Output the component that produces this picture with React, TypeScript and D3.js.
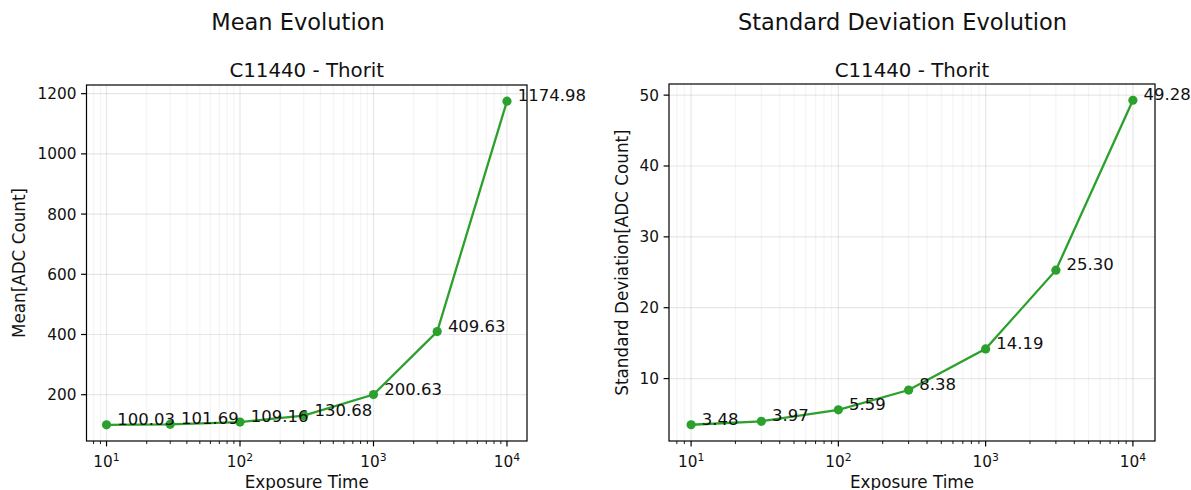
import React from "react";
import * as d3 from "d3";

const exposureTimes = [10, 30, 100, 300, 1000, 3000, 10000];
const meanValues = [100.03, 101.69, 109.16, 130.68, 200.63, 409.63, 1174.98];
const stdValues = [3.48, 3.97, 5.59, 8.38, 14.19, 25.3, 49.28];
const meanTicks = [200, 400, 600, 800, 1000, 1200];
const stdTicks = [10, 20, 30, 40, 50];
const xMajorExp = [1, 2, 3, 4];

const W = 1191;
const H = 490;
const GREEN = "#2ca02c";
const FONT = "DejaVu Sans, sans-serif";

type PanelProps = {
  left: number;
  right: number;
  top: number;
  bottom: number;
  values: number[];
  yTicks: number[];
  yLabel: string;
  title: string;
  titleX: number;
  subtitle: string;
  yLabelX: number;
};

function Panel(p: PanelProps) {
  const lx0 = Math.log10(d3.min(exposureTimes)!);
  const lx1 = Math.log10(d3.max(exposureTimes)!);
  const mx = (lx1 - lx0) * 0.05;
  const x = d3
    .scaleLog()
    .domain([Math.pow(10, lx0 - mx), Math.pow(10, lx1 + mx)])
    .range([p.left, p.right]);
  const y0 = d3.min(p.values)!;
  const y1 = d3.max(p.values)!;
  const my = (y1 - y0) * 0.05;
  const y = d3.scaleLinear().domain([y0 - my, y1 + my]).range([p.bottom, p.top]);

  const [dmin, dmax] = x.domain();
  const minor: number[] = [];
  for (let e = 0; e <= 4; e++) {
    for (let m = 2; m <= 9; m++) {
      const v = m * Math.pow(10, e);
      if (v >= dmin && v <= dmax) minor.push(v);
    }
  }
  const major = xMajorExp.map((e) => Math.pow(10, e));

  const line = d3
    .line<number>()
    .x((_, i) => x(exposureTimes[i]))
    .y((d) => y(d));

  const cx = (p.left + p.right) / 2;
  const cy = (p.top + p.bottom) / 2;

  return (
    <g fontFamily={FONT}>
      <text x={p.titleX} y={30} textAnchor="middle" fontSize={22.5} fill="#111">
        {p.title}
      </text>
      <text x={cx} y={77} textAnchor="middle" fontSize={19.8} fill="#111">
        {p.subtitle}
      </text>
      {/* grid */}
      {minor.map((v) => (
        <line key={"mg" + v} x1={x(v)} x2={x(v)} y1={p.top} y2={p.bottom} stroke="#b0b0b0" strokeOpacity={0.13} strokeWidth={1.2} />
      ))}
      {major.map((v) => (
        <line key={"Mg" + v} x1={x(v)} x2={x(v)} y1={p.top} y2={p.bottom} stroke="#b0b0b0" strokeOpacity={0.3} strokeWidth={1.2} />
      ))}
      {p.yTicks.map((v) => (
        <line key={"yg" + v} x1={p.left} x2={p.right} y1={y(v)} y2={y(v)} stroke="#b0b0b0" strokeOpacity={0.3} strokeWidth={1.2} />
      ))}
      {/* data */}
      <path d={line(p.values) || ""} fill="none" stroke={GREEN} strokeWidth={2.3} />
      {p.values.map((v, i) => (
        <circle key={"c" + i} cx={x(exposureTimes[i])} cy={y(v)} r={4.6} fill={GREEN} />
      ))}
      {p.values.map((v, i) => (
        <text key={"a" + i} x={x(exposureTimes[i]) + 10.7} y={y(v)} fontSize={16.5} fill="#111">
          {v.toFixed(2)}
        </text>
      ))}
      {/* frame */}
      <rect x={p.left} y={p.top} width={p.right - p.left} height={p.bottom - p.top} fill="none" stroke="#000" strokeWidth={1.2} />
      {/* x ticks */}
      {minor.map((v) => (
        <line key={"mt" + v} x1={x(v)} x2={x(v)} y1={p.bottom} y2={p.bottom + 3} stroke="#000" strokeWidth={0.9} />
      ))}
      {major.map((v, i) => (
        <g key={"Mt" + v}>
          <line x1={x(v)} x2={x(v)} y1={p.bottom} y2={p.bottom + 5.4} stroke="#000" strokeWidth={1.2} />
          <text x={x(v)} y={p.bottom + 26} textAnchor="middle" fontSize={15.3} fill="#111">
            10
            <tspan fontSize={10.8} dy={-6}>
              {xMajorExp[i]}
            </tspan>
          </text>
        </g>
      ))}
      {/* y ticks */}
      {p.yTicks.map((v) => (
        <g key={"yt" + v}>
          <line x1={p.left - 5.4} x2={p.left} y1={y(v)} y2={y(v)} stroke="#000" strokeWidth={1.2} />
          <text x={p.left - 10} y={y(v)} dy="0.36em" textAnchor="end" fontSize={15.3} fill="#111">
            {v}
          </text>
        </g>
      ))}
      <text x={cx} y={488} textAnchor="middle" fontSize={16.8} fill="#111">
        Exposure Time
      </text>
      <text
        transform={`translate(${p.yLabelX},${cy}) rotate(-90)`}
        textAnchor="middle"
        dy="0.36em"
        fontSize={16.8}
        fill="#111"
      >
        {p.yLabel}
      </text>
    </g>
  );
}

export default function App() {
  return (
    <div style={{ position: "absolute", left: 0, top: 0 }}>
      <svg width={W} height={H} style={{ display: "block", background: "#fff" }}>
        <Panel
          left={86.5}
          right={527}
          top={85}
          bottom={441}
          values={meanValues}
          yTicks={meanTicks}
          yLabel="Mean[ADC Count]"
          title="Mean Evolution"
          titleX={298}
          subtitle="C11440 - Thorit"
          yLabelX={18.5}
        />
        <Panel
          left={669}
          right={1155}
          top={84}
          bottom={441}
          values={stdValues}
          yTicks={stdTicks}
          yLabel="Standard Deviation[ADC Count]"
          title="Standard Deviation Evolution"
          titleX={902.5}
          subtitle="C11440 - Thorit"
          yLabelX={621.5}
        />
      </svg>
    </div>
  );
}
